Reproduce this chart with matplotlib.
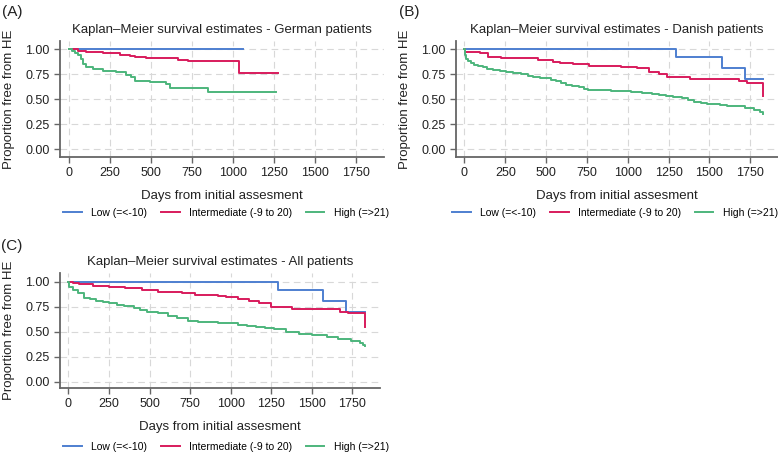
import matplotlib
matplotlib.use("Agg")
import matplotlib.pyplot as plt

plt.rcParams['font.family'] = ['Liberation Sans', 'DejaVu Sans']

# ------------------------------
# Data
# ------------------------------
groups = ['Low (=<-10)', 'Intermediate (-9 to 20)', 'High (=>21)']
colors = ['#4e7fd0', '#d81b5c', '#4db57c']
xticks = [0, 250, 500, 750, 1000, 1250, 1500, 1750]
yticks = [0.00, 0.25, 0.50, 0.75, 1.00]

# German patients
ger_low_t = [0, 1059]
ger_low_s = [1.0, 1.0]
ger_int_t = [0, 60, 108, 209, 311, 372, 402, 473, 667, 728, 1039, 1272]
ger_int_s = [1.0, 0.983, 0.967, 0.957, 0.94, 0.93, 0.917, 0.907, 0.89, 0.877, 0.765, 0.765]
ger_high_t = [0, 20, 40, 57, 77, 87, 108, 148, 209, 291, 352, 382, 402, 494, 595, 616, 850, 1262]
ger_high_s = [1.0, 0.98, 0.96, 0.945, 0.90, 0.85, 0.82, 0.80, 0.785, 0.767, 0.74, 0.717, 0.683,
              0.67, 0.65, 0.613, 0.573, 0.573]

# Danish patients
dan_low_t = [0, 1293, 1577, 1720, 1826]
dan_low_s = [1.0, 0.917, 0.812, 0.697, 0.697]
dan_int_t = [0, 3, 12, 94, 144, 226, 449, 541, 582, 663, 764, 957, 1059, 1130, 1191, 1242,
             1384, 1679, 1730, 1826]
dan_int_s = [1.0, 0.975, 0.97, 0.957, 0.923, 0.907, 0.89, 0.873, 0.857, 0.85, 0.83, 0.823,
             0.807, 0.77, 0.75, 0.717, 0.697, 0.677, 0.66, 0.53]
dan_high_t = [0, 2, 8, 20, 40, 60, 85, 114, 140, 175, 215, 256, 300, 348, 388, 420, 460, 500,
              530, 561, 590, 622, 660, 703, 730, 754, 900, 1018, 1060, 1090, 1150, 1190, 1232,
              1280, 1333, 1370, 1405, 1450, 1486, 1530, 1567, 1610, 1659, 1720, 1770, 1811, 1826]
dan_high_s = [1.0, 0.94, 0.90, 0.88, 0.86, 0.845, 0.83, 0.82, 0.805, 0.795, 0.78, 0.773, 0.765,
              0.755, 0.735, 0.725, 0.715, 0.707, 0.695, 0.683, 0.66, 0.645, 0.635, 0.623, 0.605,
              0.59, 0.585, 0.575, 0.57, 0.565, 0.557, 0.545, 0.53, 0.52, 0.51, 0.49, 0.473,
              0.465, 0.457, 0.448, 0.44, 0.435, 0.43, 0.41, 0.39, 0.375, 0.355]

# All patients
all_low_t = [0, 1290, 1571, 1713, 1826]
all_low_s = [1.0, 0.917, 0.81, 0.693, 0.693]
all_int_t = [0, 30, 67, 150, 250, 350, 453, 555, 697, 778, 920, 972, 1043, 1114, 1175, 1246,
             1378, 1673, 1724, 1826]
all_int_s = [1.0, 0.985, 0.973, 0.96, 0.95, 0.935, 0.917, 0.90, 0.883, 0.867, 0.862, 0.85,
             0.827, 0.807, 0.783, 0.75, 0.723, 0.70, 0.683, 0.55]
all_high_t = [0, 3, 6, 26, 57, 98, 130, 169, 210, 250, 300, 342, 402, 440, 484, 555, 616, 667,
              738, 799, 920, 1012, 1043, 1100, 1155, 1210, 1266, 1338, 1419, 1500, 1592, 1663,
              1744, 1795, 1815, 1826]
all_high_s = [1.0, 0.97, 0.95, 0.917, 0.883, 0.84, 0.825, 0.807, 0.795, 0.783, 0.772, 0.76,
              0.733, 0.715, 0.70, 0.683, 0.66, 0.633, 0.607, 0.593, 0.585, 0.583, 0.567, 0.56,
              0.55, 0.54, 0.527, 0.50, 0.477, 0.467, 0.45, 0.427, 0.407, 0.39, 0.37, 0.355]

# panel label, title, curves, axes box in pixels (left, top, right, bottom), ylim,
# panel label position, legend centre position
panels = [
    ('(A)', 'Kaplan\u2013Meier survival estimates - German patients',
     [(ger_low_t, ger_low_s), (ger_int_t, ger_int_s), (ger_high_t, ger_high_s)],
     [60, 41, 384, 157], (-0.075, 1.08), (2, 12), (226, 213)),
    ('(B)', 'Kaplan\u2013Meier survival estimates - Danish patients',
     [(dan_low_t, dan_low_s), (dan_int_t, dan_int_s), (dan_high_t, dan_high_s)],
     [456, 41, 778, 157], (-0.075, 1.08), (399, 12), (615, 213)),
    ('(C)', 'Kaplan\u2013Meier survival estimates - All patients',
     [(all_low_t, all_low_s), (all_int_t, all_int_s), (all_high_t, all_high_s)],
     [60, 273, 380, 388], (-0.063, 1.087), (1, 246), (226, 447)),
]

W, H = 778, 453
fig = plt.figure(figsize=(W / 100, H / 100), dpi=100)

for label, title, curves, (x0, y0, x1, y1), ylim, (lx, ly), (gx, gy) in panels:
    ax = fig.add_axes([x0 / W, 1 - y1 / H, (x1 - x0) / W, (y1 - y0) / H])
    for (t, s), c, g in zip(curves, colors, groups):
        ax.step(t, s, where='post', color=c, lw=1.4, label=g)
    ax.set_xlim(-52, 1920)
    ax.set_ylim(*ylim)
    ax.set_xticks(xticks)
    ax.set_yticks(yticks)
    ax.set_yticklabels([f'{v:.2f}' for v in yticks])
    ax.grid(True, ls=(0, (6, 4)), color='#d8d8d8', lw=0.8)
    ax.set_axisbelow(True)
    for sp in ['top', 'right']:
        ax.spines[sp].set_visible(False)
    for sp in ['left', 'bottom']:
        ax.spines[sp].set_color('#666666')
        ax.spines[sp].set_linewidth(1.3)
    ax.tick_params(colors='#666666', labelcolor='#222222', labelsize=9, length=4, width=1)
    ax.set_title(title, fontsize=9.5, color='#222222', pad=6)
    ax.set_xlabel('Days from initial assesment', fontsize=9.5, color='#222222', labelpad=7.5)
    ax.set_ylabel('Proportion free from HE', fontsize=9.5, color='#222222', labelpad=7)
    ax.legend(loc='center', bbox_to_anchor=(gx / W, 1 - gy / H), bbox_transform=fig.transFigure,
              ncol=3, frameon=False, fontsize=7.5, handlelength=1.8, columnspacing=1.3,
              handletextpad=0.9, borderaxespad=0, borderpad=0)
    fig.text(lx / W, 1 - ly / H, label, fontsize=11, color='#222222', ha='left', va='center')

fig.savefig('out.png', dpi=100)
